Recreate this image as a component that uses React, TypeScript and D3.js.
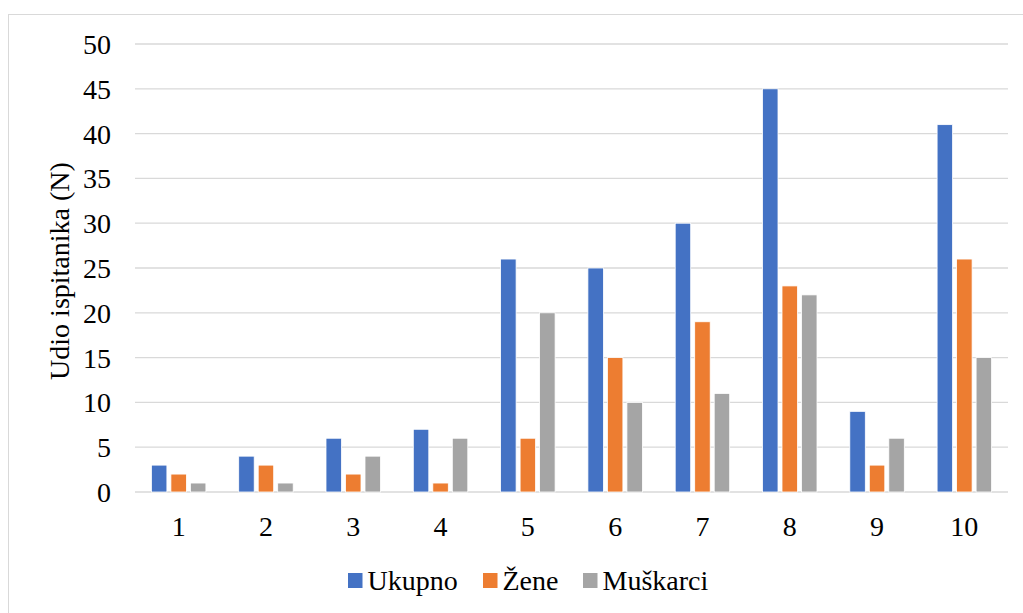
import React, { useRef, useEffect } from 'react';
import * as d3 from 'd3';

const WIDTH = 1023;
const HEIGHT = 613;

const categories = ['1', '2', '3', '4', '5', '6', '7', '8', '9', '10'];
const seriesNames = ['Ukupno', 'Žene', 'Muškarci'];
const ukupno = [3, 4, 6, 7, 26, 25, 30, 45, 9, 41];
const zene = [2, 3, 2, 1, 6, 15, 19, 23, 3, 26];
const muskarci = [1, 1, 4, 6, 20, 10, 11, 22, 6, 15];
const colors = ['#4472C4', '#ED7D31', '#A5A5A5'];
const yTicks = [0, 5, 10, 15, 20, 25, 30, 35, 40, 45, 50];

const FONT = "'Liberation Serif', 'Times New Roman', Times, 'DejaVu Serif', serif";
const FS = '28px';

const App: React.FC = () => {
  const svgRef = useRef<SVGSVGElement>(null);

  useEffect(() => {
    if (!svgRef.current) return;
    const svg = d3.select(svgRef.current);
    svg.selectAll('*').remove();

    const left = 135;
    const right = 1008;
    const top = 44;
    const bottom = 492;

    // chart border
    svg.append('rect')
      .attr('x', 8.5).attr('y', 14.5)
      .attr('width', 1030).attr('height', 620)
      .attr('fill', 'white').attr('stroke', '#d9d9d9').attr('stroke-width', 1);

    const x = d3.scaleBand<string>().domain(categories).range([left, right]);
    const y = d3.scaleLinear().domain([0, 50]).range([bottom, top]);

    // gridlines
    svg.append('g').selectAll('line').data(yTicks).join('line')
      .attr('x1', left).attr('x2', right)
      .attr('y1', (d) => y(d)).attr('y2', (d) => y(d))
      .attr('stroke', '#d9d9d9').attr('stroke-width', 1.3);

    const txt = svg.append('g')
      .style('font-family', FONT)
      .style('font-size', FS)
      .attr('fill', '#000');

    // y tick labels
    txt.append('g').selectAll('text').data(yTicks).join('text')
      .attr('x', 111).attr('y', (d) => y(d) + 10)
      .attr('text-anchor', 'end')
      .text((d) => String(d));

    // x tick labels
    txt.append('g').selectAll('text').data(categories).join('text')
      .attr('x', (d) => (x(d) ?? 0) + x.bandwidth() / 2).attr('y', 536)
      .attr('text-anchor', 'middle')
      .text((d) => d);

    // bars
    const series = [ukupno, zene, muskarci];
    const barW = 15.5;
    const step = 19.5;
    series.forEach((vals, si) => {
      svg.append('g').selectAll('rect').data(vals).join('rect')
        .attr('x', (_, i) => (x(categories[i]) ?? 0) + x.bandwidth() / 2 + (si - 1) * step - barW / 2)
        .attr('y', (d) => y(d))
        .attr('width', barW)
        .attr('height', (d) => bottom - y(d))
        .attr('fill', colors[si])
        .attr('stroke', 'white').attr('stroke-width', 0.8);
    });

    // y axis title
    txt.append('text')
      .attr('transform', `translate(69, 271) rotate(-90)`)
      .attr('text-anchor', 'middle')
      .text('Udio ispitanika (N)');

    // legend
    const legendX = [348, 483, 583];
    seriesNames.forEach((name, i) => {
      svg.append('rect')
        .attr('x', legendX[i]).attr('y', 573)
        .attr('width', 14.5).attr('height', 15)
        .attr('fill', colors[i]);
      txt.append('text')
        .attr('x', legendX[i] + 19.5).attr('y', 590)
        .text(name);
    });
  }, []);

  return (
    <svg
      ref={svgRef}
      width={WIDTH}
      height={HEIGHT}
      style={{ position: 'absolute', left: 0, top: 0 }}
    />
  );
};

export default App;
